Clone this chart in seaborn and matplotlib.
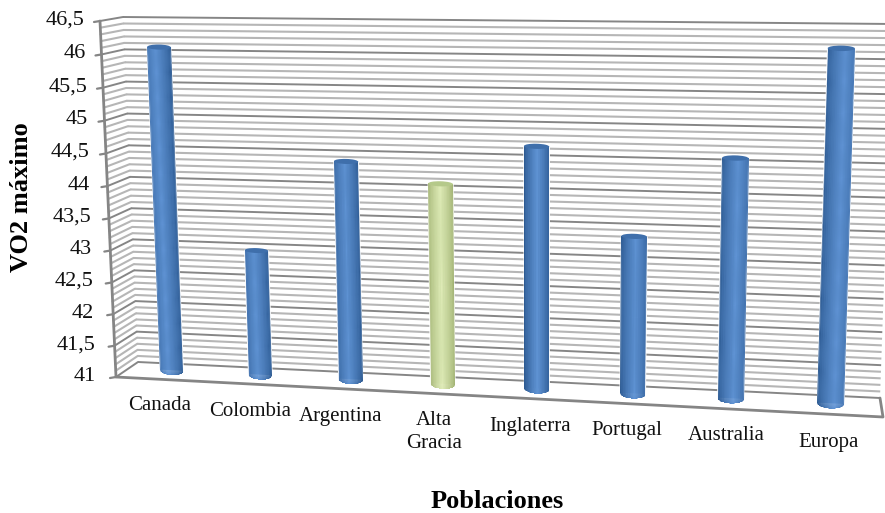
import matplotlib
matplotlib.use("Agg")
import matplotlib.pyplot as plt
from matplotlib.patches import Ellipse
from matplotlib.transforms import Transform, IdentityTransform
from matplotlib.colors import to_rgb
import numpy as np
import seaborn as sns

sns.set_theme(style="white")
plt.rcParams['font.family'] = ['Liberation Serif', 'DejaVu Serif']

W, H = 885, 513

categorias = ["Canada", "Colombia", "Argentina", "Alta\nGracia", "Inglaterra", "Portugal", "Australia", "Europa"]
vo2 = np.array([46.08, 42.98, 44.4, 44.1, 44.7, 43.4, 44.6, 46.2])
y_ticks = [41, 41.5, 42, 42.5, 43, 43.5, 44, 44.5, 45, 45.5, 46, 46.5]
y_tick_labels = ["41", "41,5", "42", "42,5", "43", "43,5", "44", "44,5", "45", "45,5", "46", "46,5"]
y_minor = np.arange(410, 466) / 10

# layout (image pixels): bottom-left, bottom-right, top-right, top-left
back_corners = [(138, 362), (880, 398), (893, 24), (123, 17)]
front_corners = [(116, 377), (883, 417), (897, 32), (100, 21)]
depth = 0.45
label_xy = [(160, 406), (250, 412), (341, 416), (434, 432), (530, 426), (627, 430), (726, 435), (829, 442)]

X0, X1, Y0, Y1 = -0.5, 7.5, 41, 46.5


class Perspectiva(Transform):
    input_dims = 2
    output_dims = 2
    is_separable = False
    has_inverse = False

    def __init__(self, corners):
        super().__init__()
        src = [(X0, Y0), (X1, Y0), (X1, Y1), (X0, Y1)]
        A, b = [], []
        for (x, y), (u, v) in zip(src, corners):
            v = H - v
            A.append([x, y, 1, 0, 0, 0, -u * x, -u * y])
            A.append([0, 0, 0, x, y, 1, -v * x, -v * y])
            b += [u, v]
        self.h = np.append(np.linalg.solve(np.array(A, float), np.array(b, float)), 1).reshape(3, 3)

    def transform_non_affine(self, values):
        values = np.asarray(values)
        pts = np.column_stack([values, np.ones(len(values))]) @ self.h.T
        return pts[:, :2] / pts[:, 2:]


back = Perspectiva(back_corners)
front = Perspectiva(front_corners)
mid = Perspectiva([tuple(np.array(b) + depth * (np.array(f) - np.array(b)))
                   for b, f in zip(back_corners, front_corners)])

fig = plt.figure(figsize=(W / 100, H / 100), dpi=100)
ax = fig.add_axes([0, 0, 1, 1], label="paredes", zorder=0)
ax_bar = fig.add_axes([0, 0, 1, 1], label="barras", zorder=1)
ax_top = fig.add_axes([0, 0, 1, 1], label="cilindros", zorder=2)

colores = ["#4f81bd", "#4f81bd", "#4f81bd", "#c3d69b", "#4f81bd", "#4f81bd", "#4f81bd", "#4f81bd"]
sns.barplot(x=categorias, y=vo2 - Y0, hue=categorias, palette=colores, bottom=Y0, width=0.26,
            saturation=1, dodge=False, legend=False, errorbar=None, ax=ax_bar)
for a in (ax, ax_bar, ax_top):
    a.axis("off")

# paredes: rejilla de fondo y lateral
for v in y_minor:
    major = abs(v * 2 - round(v * 2)) < 1e-6
    col, lw = ("#868686", 1.4) if major else ("#b6b6b6", 1.5)
    ax.plot([X0, X1], [v, v], color=col, lw=lw, transform=back, zorder=1 + major, solid_capstyle="butt")
    p = np.vstack([front.transform([(X0, v)]), back.transform([(X0, v)])])
    ax.plot(p[:, 0], p[:, 1], color=col, lw=lw, transform=IdentityTransform(), zorder=1 + major)

# suelo y eje
borde = "#858585"
pts = np.vstack([back.transform([(X1, Y0)]), front.transform([(X1, Y0), (X0, Y0), (X0, Y1)])])
ax.plot(pts[:, 0], pts[:, 1], color=borde, lw=2, transform=IdentityTransform(), zorder=3)

for t, lab in zip(y_ticks, y_tick_labels):
    px, py = front.transform([(X0, t)])[0]
    ax.plot([px - 6, px], [py - 1, py], color=borde, lw=1.6, transform=IdentityTransform(), zorder=3)
    # las etiquetas caen menos que el eje
    ax.text(px - 15 - 5 * (t - Y0 > 0) * (Y1 - t) / (Y1 - Y0) - 5 * (t == Y0), py + 1, lab, ha="right", va="center",
            fontsize=16, color="#111111", transform=IdentityTransform())

# cilindros
n = 40
u = np.linspace(-1, 1, n + 1)
uc = (u[:-1] + u[1:]) / 2
for i, bar in enumerate(ax_bar.patches):
    bar.set_transform(mid)
    x, w, y, h = bar.get_x(), bar.get_width(), bar.get_y(), bar.get_height()
    verde = categorias[i].startswith("Alta")
    dark = np.array(to_rgb("#9fb070" if verde else "#2b5890"))
    light = np.array(to_rgb("#e0ecb8" if verde else "#5f93d4"))
    hl = -0.3 + 0.6 * i / 7
    s = np.clip(1 - np.abs(uc - hl) / (1 + np.abs(hl)), 0, 1) ** 0.8
    C = (dark + (light - dark) * s[:, None])[None, :, :]
    e = 0.07
    xs = x + (u + 1) / 2 * w
    arc = np.sqrt(1 - u ** 2)
    X = np.vstack([xs, xs])
    Y = np.vstack([y - e * arc, np.full_like(xs, y + h)])
    ax_top.pcolormesh(X, Y, C, transform=mid, zorder=4, shading="flat", antialiased=True, linewidth=0)
    cap = Ellipse((x + w / 2, y + h), w, 2 * e * 0.55, transform=mid, zorder=5, lw=0,
                  facecolor="#b5c98a" if verde else "#3f6fab")
    ax_top.add_patch(cap)

for (px, py), lab in zip(label_xy, categorias):
    ax_top.text(px, H - py, lab, ha="center", va="center", fontsize=15, color="#111111",
                linespacing=1.3, transform=IdentityTransform())

ax_top.text(497, H - 502, "Poblaciones", ha="center", va="center", fontsize=19, fontweight="bold",
            color="black", transform=IdentityTransform())
ax_top.text(22, H - 197, "VO2 máximo", ha="center", va="center", rotation=90, fontsize=19, fontweight="bold",
            color="black", transform=IdentityTransform())

fig.savefig("out.png", dpi=100, facecolor="white")
